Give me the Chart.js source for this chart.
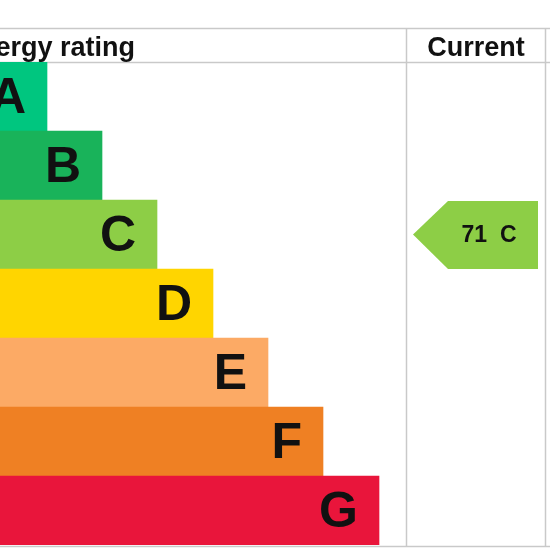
<!DOCTYPE html>
<html>
<head>
<meta charset="utf-8">
<script src="https://cdn.jsdelivr.net/npm/chart.js@4"></script>
<style>
  html, body { margin: 0; padding: 0; background: #fff; }
  #epc { display: block; }
</style>
</head>
<body>
<canvas id="epc" width="550" height="550"></canvas>
<script>
// rating bands, top to bottom
const bands = ['A', 'B', 'C', 'D', 'E', 'F', 'G'];
// visible bar lengths (the left part of the chart is cut off)
const barLengths = [47, 102, 157, 213, 268, 323, 379];
const bandColors = ['#00c67f', '#19b35a', '#8dce46', '#ffd500', '#fcaa65', '#ef8023', '#e9153b'];

const currentScore = 71;
const currentBand = 'C';

const lineColor = '#c9c9c9';

// table lines, header texts and the current rating arrow
const epcTable = {
    id: 'epcTable',
    beforeDatasetsDraw(chart) {
        const ctx = chart.ctx;
        ctx.save();
        ctx.strokeStyle = lineColor;
        ctx.lineWidth = 1.5;
        ctx.beginPath();
        ctx.moveTo(0, 28.5); ctx.lineTo(550, 28.5);
        ctx.moveTo(0, 62.5); ctx.lineTo(550, 62.5);
        ctx.moveTo(0, 546.5); ctx.lineTo(550, 546.5);
        ctx.moveTo(406.5, 28); ctx.lineTo(406.5, 547);
        ctx.moveTo(545.5, 28); ctx.lineTo(545.5, 547);
        ctx.stroke();

        ctx.fillStyle = '#111';
        ctx.font = 'bold 27px "Liberation Sans", Arial, sans-serif';
        ctx.textBaseline = 'alphabetic';
        ctx.textAlign = 'right';
        ctx.fillText('Energy rating', 135, 56);
        ctx.textAlign = 'center';
        ctx.fillText('Current', 476, 56);
        ctx.restore();
    },
    afterDatasetsDraw(chart) {
        const ctx = chart.ctx;
        const meta = chart.getDatasetMeta(0);
        ctx.save();
        ctx.fillStyle = '#111';
        ctx.font = 'bold 50px "Liberation Sans", Arial, sans-serif';
        ctx.textAlign = 'right';
        ctx.textBaseline = 'middle';
        meta.data.forEach((bar, i) => {
            ctx.fillText(bands[i], bar.x - 21, bar.y + 3);
        });

        // current rating arrow
        const yScale = chart.scales.y;
        const idx = bands.indexOf(currentBand);
        const yc = yScale.getPixelForValue(idx);
        const half = (yScale.getPixelForValue(1) - yScale.getPixelForValue(0)) / 2;
        const top = yc - half + 1, bottom = yc + half;
        const tip = 413, body = 448, right = 538;
        ctx.fillStyle = bandColors[idx];
        ctx.beginPath();
        ctx.moveTo(tip, yc);
        ctx.lineTo(body, top);
        ctx.lineTo(right, top);
        ctx.lineTo(right, bottom);
        ctx.lineTo(body, bottom);
        ctx.closePath();
        ctx.fill();
        ctx.fillStyle = '#111';
        ctx.font = 'bold 23px "Liberation Sans", Arial, sans-serif';
        ctx.textAlign = 'center';
        ctx.fillText(currentScore + '  ' + currentBand, 489, yc + 1);
        ctx.restore();
    }
};

new Chart(document.getElementById('epc'), {
    type: 'bar',
    data: {
        labels: bands,
        datasets: [{
            data: barLengths,
            backgroundColor: bandColors,
            borderWidth: 0,
            barPercentage: 1,
            categoryPercentage: 1
        }]
    },
    options: {
        indexAxis: 'y',
        responsive: false,
        animation: false,
        layout: { padding: { top: 62, bottom: 5, left: 0, right: 0 } },
        plugins: {
            legend: { display: false },
            tooltip: { enabled: false }
        },
        scales: {
            x: { type: 'linear', min: 0, max: 550, display: false },
            y: { display: false }
        }
    },
    plugins: [epcTable]
});
</script>
</body>
</html>
